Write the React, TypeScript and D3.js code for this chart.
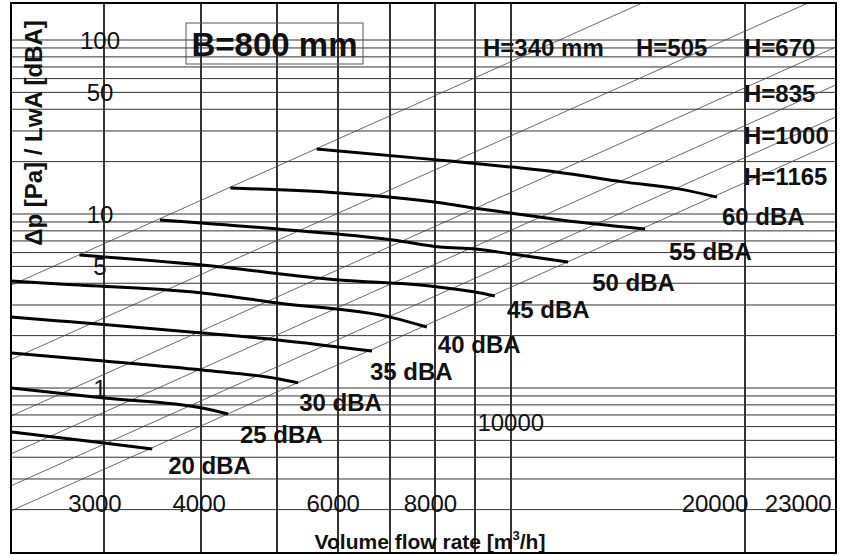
import * as d3 from "d3";
import React from "react";

// nomogram: pressure drop / sound power for duct width B=800 mm
type Pt = [number, number]; // [flow m3/h, dp Pa]

// vertical grid lines (flow rate) and labels
const flowGrid = [3000, 4000, 5000, 6000, 7000, 8000, 9000, 10000, 20000];
const flowLabels = [3000, 4000, 6000, 8000, 20000, 23000];
const flowLabelsRaised = [10000];

// horizontal grid lines (pressure drop) and labels
const dpGrid = [
  0.2, 0.3, 0.4, 0.5, 0.6, 0.7, 0.8, 0.9, 1, 2, 3, 4, 5, 6, 7, 8, 9, 10, 20, 30,
  40, 50, 60, 70, 80, 90, 100,
];
const dpLabels = [100, 50, 10, 5, 1];

// duct heights and their pressure drop at 10000 m3/h (dp ~ Q^2)
const ductHeights = [340, 505, 670, 835, 1000, 1165];
const dpAt10000 = [75, 28.1, 13.3, 8.06, 5.28, 3.79];

// sound power lines
const dbaLevels = [60, 55, 50, 45, 40, 35, 30, 25, 20];
const dba60: Pt[] = [[5630, 23.6], [8110, 20.4], [10040, 18.6], [11500, 17.4], [13940, 15.3], [16500, 13.9], [18410, 12.5]];
const dba55: Pt[] = [[4360, 14.1], [6020, 13.2], [8110, 11.6], [9000, 10.8], [10040, 10.1], [11330, 9.36], [14880, 8.2]];
const dba50: Pt[] = [[3540, 9.24], [5020, 8.2], [7060, 7.09], [8110, 6.46], [9000, 6.29], [10040, 5.89], [11850, 5.3]];
const dba45: Pt[] = [[2790, 5.81], [4010, 5.09], [6020, 4.18], [7870, 3.86], [9000, 3.56], [9540, 3.38]];
const dba40: Pt[] = [[2280, 4.12], [2630, 3.96], [4010, 3.52], [5020, 3.08], [7060, 2.53], [7800, 2.24]];
const dba35: Pt[] = [[2280, 2.56], [2630, 2.43], [3050, 2.3], [4010, 2.07], [5020, 1.89], [6630, 1.63]];
const dba30: Pt[] = [[2280, 1.59], [3000, 1.43], [4010, 1.27], [5020, 1.13], [5330, 1.07]];
const dba25: Pt[] = [[2280, 1.0], [3000, 0.876], [4010, 0.767], [4330, 0.709]];
const dba20: Pt[] = [[2280, 0.559], [3000, 0.483], [3460, 0.446]];
const dbaCurves = [dba60, dba55, dba50, dba45, dba40, dba35, dba30, dba25, dba20];

// layout
const W = 848;
const HGT = 556;
const frame = { left: 11, top: 3, right: 836, bottom: 553 };
const font = "'Liberation Sans', Arial, sans-serif";
// label offsets from the end of each dBA line
const dbaLabelOffset: Pt[] = [[5, 28], [24, 31], [24, 29], [12, 22], [11, 26], [-2, 29], [1, 28], [12, 29], [16, 25]];
const hLabelPos: Pt[] = [[483, 56], [636, 56], [744, 56], [744, 102], [744, 144], [744, 185]];
// horizontal nudge of the flow labels relative to their value
const flowLabelDx = [-9, -2, -5, -5, -30, 6];

const xs = d3.scaleLog().domain([3000, 20000]).range([104, 745]);
const ys = d3.scaleLog().domain([1, 100]).range([388, 40]);

export default function App() {
  const qMin = xs.invert(frame.left);
  const qMax = xs.invert(frame.right);
  const curveGen = d3
    .line<Pt>()
    .x((d) => xs(d[0]))
    .y((d) => ys(d[1]))
    .curve(d3.curveMonotoneX);
  const straightGen = d3
    .line<Pt>()
    .x((d) => xs(d[0]))
    .y((d) => ys(d[1]));

  return (
    <svg width={W} height={HGT} style={{ position: "absolute", left: 0, top: 0 }}>
      <rect width={W} height={HGT} fill="#fff" />

      {/* grid */}
      {dpGrid.map((v) => (
        <line key={"h" + v} x1={frame.left} x2={frame.right} y1={ys(v)} y2={ys(v)} stroke="#333" strokeWidth={1} />
      ))}
      {flowGrid.map((q) => (
        <line
          key={"v" + q}
          x1={Math.round(xs(q))}
          x2={Math.round(xs(q))}
          y1={frame.top}
          y2={frame.bottom}
          stroke="#333"
          strokeWidth={2}
        />
      ))}

      {/* duct size lines */}
      {dpAt10000.map((k, i) => {
        const pts: Pt[] = [qMin, qMax].map((q) => [q, k * (q / 10000) ** 2]);
        return <path key={"d" + i} d={straightGen(pts)!} fill="none" stroke="#444" strokeWidth={0.8} />;
      })}

      {/* sound power lines */}
      {dbaCurves.map((c, i) => (
        <path key={"c" + i} d={curveGen(c)!} fill="none" stroke="#000" strokeWidth={3} />
      ))}

      {/* white mask outside the frame */}
      <path
        d={`M0,0H${W}V${HGT}H0Z M${frame.left},${frame.top}V${frame.bottom}H${frame.right}V${frame.top}Z`}
        fill="#fff"
        fillRule="evenodd"
      />

      <g fontFamily={font} fill="#111">
        {/* y tick labels */}
        {dpLabels.map((v) => (
          <text key={"yl" + v} x={xs(3000) - 4} y={ys(v)} dy="0.36em" textAnchor="middle" fontSize={24}>
            {v}
          </text>
        ))}

        {/* x tick labels */}
        {flowLabels.map((q, i) => (
          <text key={"xl" + q} x={xs(q) + flowLabelDx[i]} y={512} textAnchor="middle" fontSize={24}>
            {q}
          </text>
        ))}
        {flowLabelsRaised.map((q) => (
          <text key={"xr" + q} x={xs(q)} y={431} textAnchor="middle" fontSize={24}>
            {q}
          </text>
        ))}

        {/* dBA labels */}
        {dbaCurves.map((c, i) => {
          const end = c[c.length - 1];
          return (
            <text
              key={"dl" + i}
              x={xs(end[0]) + dbaLabelOffset[i][0]}
              y={ys(end[1]) + dbaLabelOffset[i][1]}
              fontSize={24}
              fontWeight="bold"
            >
              {dbaLevels[i]} dBA
            </text>
          );
        })}

        {/* duct height labels */}
        {ductHeights.map((h, i) => (
          <text key={"hl" + h} x={hLabelPos[i][0]} y={hLabelPos[i][1]} fontSize={24} fontWeight="bold">
            H={h}
            {i === 0 ? " mm" : ""}
          </text>
        ))}

        {/* title box */}
        <rect x={186} y={23} width={177} height={41} fill="none" stroke="#555" strokeWidth={1} />
        <text x={274.5} y={44} dy="0.36em" textAnchor="middle" fontSize={33} fontWeight="bold">
          B=800 mm
        </text>

        {/* axis titles */}
        <text transform="translate(33,133) rotate(-90)" dy="0.36em" textAnchor="middle" fontSize={24} fontWeight="bold">
          Δp [Pa] / LwA [dBA]
        </text>
        <text x={430} y={549} textAnchor="middle" fontSize={21} fontWeight="bold">
          Volume flow rate [m<tspan fontSize={13} dy={-9}>3</tspan>
          <tspan dy={9}>/h]</tspan>
        </text>
      </g>

      {/* frame */}
      <rect
        x={frame.left}
        y={frame.top}
        width={frame.right - frame.left}
        height={frame.bottom - frame.top}
        fill="none"
        stroke="#000"
        strokeWidth={2}
      />
    </svg>
  );
}
